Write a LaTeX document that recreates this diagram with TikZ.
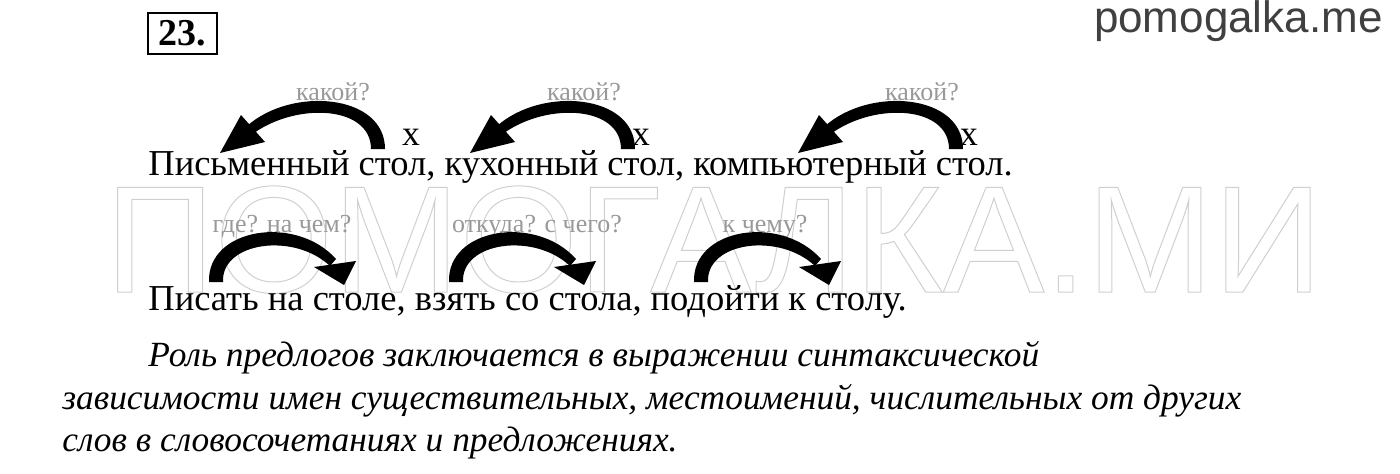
\documentclass[tikz,border=0pt]{standalone}
\usepackage{fontspec}
\setmainfont{Liberation Serif}
\newfontfamily\sitefont{Liberation Sans}
\usepackage{xcolor}

\definecolor{askgray}{HTML}{999999}
\definecolor{sitegray}{HTML}{404040}
\definecolor{markgray}{HTML}{CFCFCF}

\tikzset{
  sent/.style={anchor=base west,inner sep=0pt,font=\fontsize{18.25}{20}\selectfont},
  quest/.style={anchor=base,inner sep=0pt,text=askgray,font=\fontsize{13}{15}\selectfont},
  cross/.style={anchor=base,inner sep=0pt,font=\fontsize{17.8}{20}\selectfont},
  concl/.style={anchor=base west,inner sep=0pt,font=\fontsize{17.7}{22}\selectfont\itshape},
}

\begin{document}
\begin{tikzpicture}[x=0.5pt,y=-0.5pt]
        \useasboundingbox (0,0) rectangle (1400,473);
        % watermark
        \node[anchor=base west,inner sep=0pt,text=markgray,
              font=\sitefont\fontsize{76}{76}\selectfont] (mark) at (105,292)
              {\special{pdf:literal direct 1 Tr 0.5 w}ПОМОГАЛКА.МИ\special{pdf:literal direct 0 Tr 0.4 w}};
        % header
        \node[draw,line width=1pt,minimum width=34.5pt,minimum height=20.5pt,inner sep=0pt,
              font=\fontsize{19}{19}\selectfont\bfseries] (num) at (182.5,33.5) {23.};
        \node[anchor=base east,inner sep=0pt,text=sitegray,
              font=\sitefont\fontsize{22}{22}\selectfont] (site) at (1383,32) {pomogalka.me};
        % first line
        \foreach \x/\n in {333/1,584/2,922/3}
          \node[quest] (ask\n) at (\x,100) {какой?};
        \foreach \x/\n in {411/1,641/2,969/3}
          \node[cross] (mark\n) at (\x,145) {х};
        \node[sent] (line1) at (148,175) {Письменный стол, кухонный стол, компьютерный стол.};
        \foreach \t in {378,628,956} {
          \fill (\t+7,149) .. controls (\t+7,94) and (\t-86,86) .. (\t-131,126)
             -- (\t-124,133) .. controls (\t-80,102) and (\t-7,106) .. (\t-7,149) -- cycle;
          \fill (\t-158,153) -- (\t-113,142) -- (\t-137,115) -- cycle;
        }
        % second line
        \node[quest] (where) at (282,232) {где? на чем?};
        \node[quest] (whence) at (537,232) {откуда? с чего?};
        \node[quest] (whither) at (765,232) {к чему?};
        \node[sent] (line2) at (148,310) {Писать на столе, взять со стола, подойти к столу.};
        \foreach \t in {216,456,701} {
          \fill (\t-7,282) .. controls (\t-9,228) and (\t+80,214) .. (\t+120,259)
             -- (\t+114,266) .. controls (\t+78,232) and (\t+5,242) .. (\t+7,282) -- cycle;
          \fill (\t+98,267) -- (\t+140,261) -- (\t+128,285) -- cycle;
        }
        % conclusion
        \node[concl] (rule1) at (148,366) {Роль предлогов заключается в выражении синтаксической};
        \node[concl] (rule2) at (62,409) {зависимости имен существительных, местоимений, числительных от других};
        \node[concl] (rule3) at (62,451) {слов в словосочетаниях и предложениях.};
\end{tikzpicture}
\end{document}
